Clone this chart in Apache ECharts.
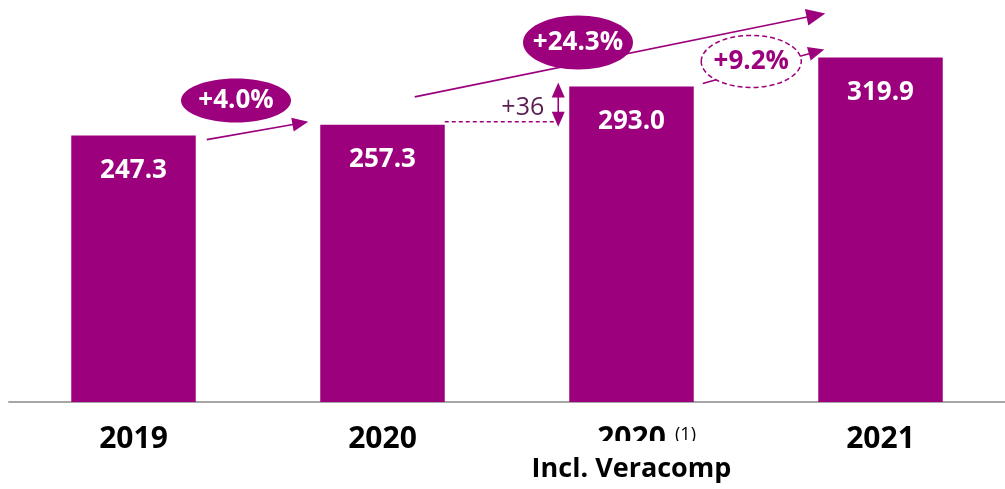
<!DOCTYPE html>
<html>
<head>
<meta charset="utf-8">
<script src="https://cdn.jsdelivr.net/npm/echarts@6/dist/echarts.min.js"></script>
<style>
  html, body { margin: 0; padding: 0; background: #ffffff; }
  #chart { width: 1005px; height: 489px; }
</style>
</head>
<body>
<div id="chart"></div>
<script>
// Revenue by year (EUR m)
const categoryKeys = ['y2019', 'y2020', 'y2020pf', 'y2021'];
const categoryTitles = ['2019', '2020', '2020', '2021'];
const categoryNotes = ['', '', '(1)', ''];
const categorySubtitles = ['', '', 'Incl. Veracomp', ''];
const revenue = [247.3, 257.3, 293.0, 319.9];
const growthLabels = ['+4.0%', '+24.3%', '+9.2%'];
const bridgeLabel = '+36';

const PURPLE = '#9C007D';
const FONT = '"Open Sans", "Noto Sans", sans-serif';

const chart = echarts.init(document.getElementById('chart'), null, { renderer: 'canvas' });

const option = {
  animation: false,
  backgroundColor: '#ffffff',
  grid: { left: 9, width: 1000, top: 25, bottom: 87 },
  xAxis: {
    type: 'category',
    data: categoryKeys,
    axisLine: { show: true, lineStyle: { color: '#a6a6a6', width: 2 } },
    axisTick: { show: false },
    axisLabel: {
      margin: 29,
      interval: 0,
      formatter: function (val, idx) {
        let s = '{a|' + categoryTitles[idx] + '}';
        if (categorySubtitles[idx]) s += '\n{b|' + categorySubtitles[idx] + '}';
        return s;
      },
      rich: {
        a: { fontFamily: FONT, fontWeight: 'bold', fontSize: 30, color: '#000', lineHeight: 16 },
        b: { fontFamily: FONT, fontWeight: 'bold', fontSize: 27, color: '#000', lineHeight: 30,
             backgroundColor: '#ffffff', padding: [15, 0, 0, 0] }
      }
    }
  },
  yAxis: {
    type: 'value', min: 0, max: 350, show: false,
    splitLine: { show: false }
  },
  series: [{
    type: 'bar',
    data: revenue,
    barWidth: '50%',
    itemStyle: { color: PURPLE },
    label: {
      show: true,
      position: 'insideTop',
      distance: 22,
      color: '#ffffff',
      fontFamily: FONT,
      fontWeight: 'bold',
      fontSize: 26,
      formatter: function (p) { return p.value.toFixed(1); }
    }
  }]
};
chart.setOption(option);

// Bar geometry in pixels, taken from the chart's own scales
const p0 = chart.convertToPixel({ seriesIndex: 0 }, [0, 0]);
const p1 = chart.convertToPixel({ seriesIndex: 0 }, [1, 0]);
const band = p1[0] - p0[0];
const half = band * 0.25;
const baseY = p0[1];
const bars = revenue.map(function (v, i) {
  const p = chart.convertToPixel({ seriesIndex: 0 }, [i, v]);
  return { cx: p[0], top: p[1], left: p[0] - half, right: p[0] + half };
});

function arrowHead(x1, y1, x2, y2, len, w) {
  const a = Math.atan2(y2 - y1, x2 - x1);
  const bx = x2 - len * Math.cos(a), by = y2 - len * Math.sin(a);
  const nx = -Math.sin(a) * w / 2, ny = Math.cos(a) * w / 2;
  return {
    type: 'polygon',
    shape: { points: [[x2, y2], [bx + nx, by + ny], [bx - nx, by - ny]] },
    style: { fill: PURPLE }
  };
}
function arrow(x1, y1, x2, y2, len, w, lw) {
  const a = Math.atan2(y2 - y1, x2 - x1);
  return [
    { type: 'line', shape: { x1: x1, y1: y1, x2: x2 - (len - 2) * Math.cos(a), y2: y2 - (len - 2) * Math.sin(a) },
      style: { stroke: PURPLE, lineWidth: lw } },
    arrowHead(x1, y1, x2, y2, len, w)
  ];
}
function label(x, y, text, color, size, weight, align) {
  return {
    type: 'text', x: x, y: y,
    style: { text: text, fill: color, font: (weight || 'bold') + ' ' + size + 'px ' + FONT,
             align: align || 'center', verticalAlign: 'middle' }
  };
}

const b = bars;
const els = [];

// 2019 -> 2020 growth
els.push.apply(els, arrow(b[0].right + 11, b[0].top + 4, b[1].left - 12, b[1].top - 3, 16, 14, 1.6));
els.push({ type: 'ellipse', shape: { cx: b[0].cx + 102.5, cy: b[0].top - 35, rx: 55, ry: 22 }, style: { fill: PURPLE } });
els.push(label(b[0].cx + 102.5, b[0].top - 35, growthLabels[0], '#ffffff', 26));

// 2020 -> 2021 growth (long arrow)
els.push.apply(els, arrow(b[1].right - 30, b[1].top - 28, b[3].left + 7, b[3].top - 44, 19, 17, 1.6));
els.push({ type: 'ellipse', shape: { cx: b[2].cx - 53.5, cy: b[2].top - 44, rx: 55, ry: 27 }, style: { fill: PURPLE } });
els.push(label(b[2].cx - 53.5, b[2].top - 44, growthLabels[1], '#ffffff', 26));

// 2020 incl. Veracomp -> 2021 growth
els.push.apply(els, arrow(b[2].right + 9, b[2].top - 3, b[3].left + 6, b[3].top - 8, 16, 14, 1.6));
els.push({ type: 'ellipse', shape: { cx: b[3].left - 67, cy: b[3].top + 4, rx: 50, ry: 26 },
           style: { fill: '#ffffff', stroke: PURPLE, lineWidth: 1.5, lineDash: [5, 3] } });
els.push(label(b[3].left - 67, b[3].top + 4, growthLabels[2], PURPLE, 26));

// Perimeter bridge: dashed reference and double arrow
els.push({ type: 'line', shape: { x1: b[1].right, y1: b[1].top - 3, x2: b[2].left - 15, y2: b[1].top - 3 },
           style: { stroke: PURPLE, lineWidth: 1.5, lineDash: [4, 3] } });
const dx = b[2].left - 11;
els.push({ type: 'line', shape: { x1: dx, y1: b[2].top + 8, x2: dx, y2: b[1].top - 10 },
           style: { stroke: PURPLE, lineWidth: 1.6 } });
els.push(arrowHead(dx, b[1].top, dx, b[2].top - 4, 15, 13));
els.push(arrowHead(dx, b[2].top, dx, b[1].top + 2, 15, 13));
els.push(label(b[2].left - 25, b[1].top - 17, bridgeLabel, '#5a1e50', 25, 'normal', 'right'));

// Footnote marker next to the pro-forma year
els.push(label(b[2].cx + 54, baseY + 33, categoryNotes[2], '#000000', 18, 'normal'));

chart.setOption({ graphic: { elements: els } });
</script>
</body>
</html>
